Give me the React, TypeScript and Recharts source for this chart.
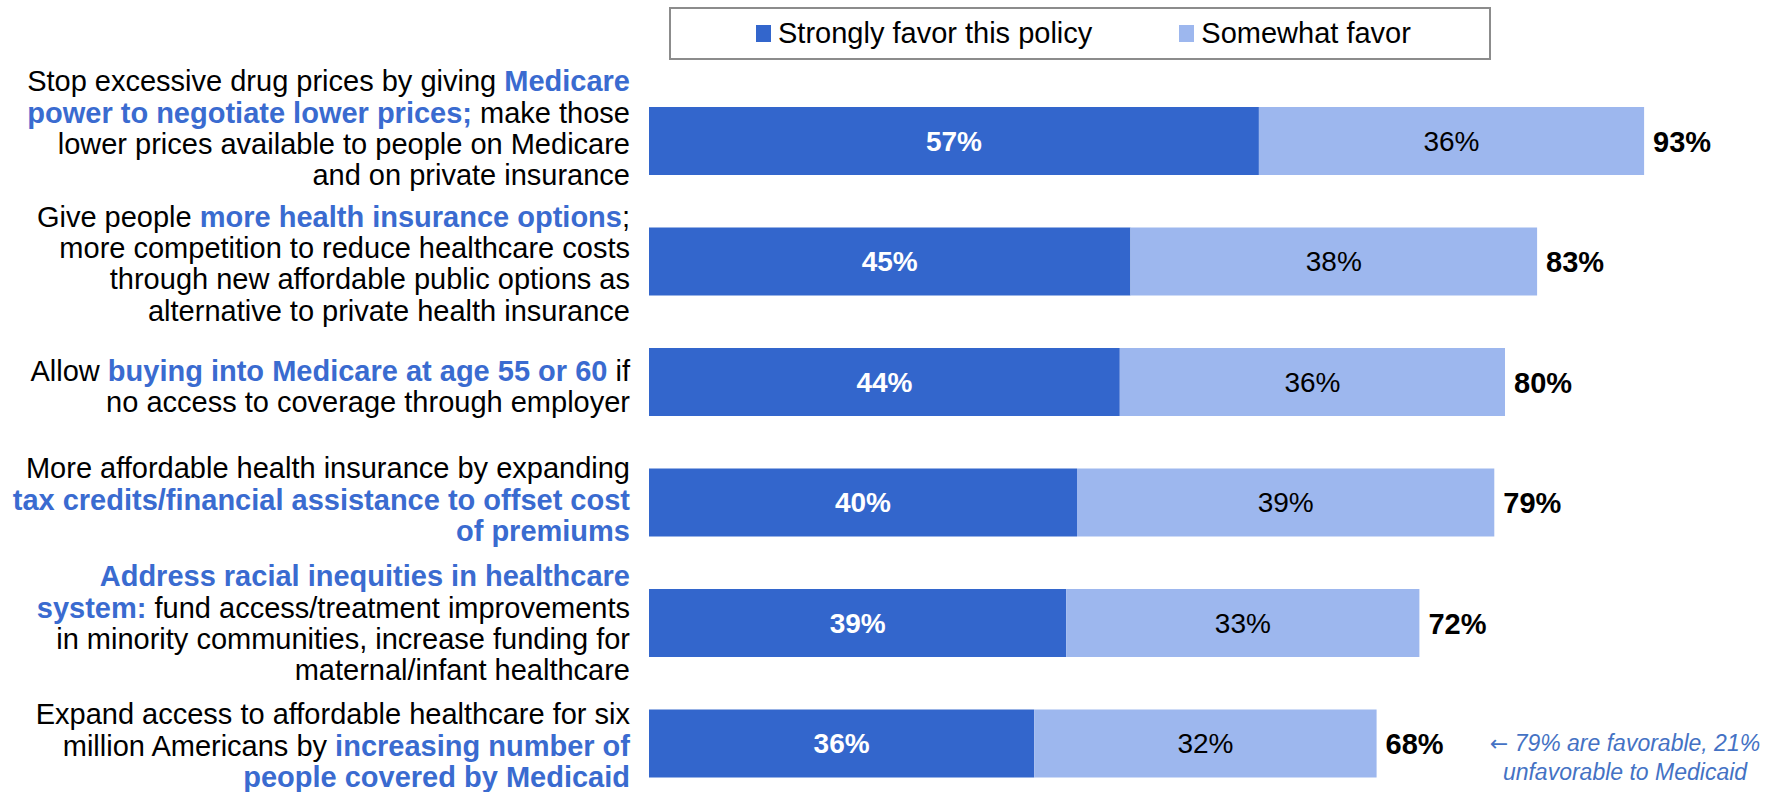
import React from 'react';
import { BarChart, Bar, XAxis, YAxis, Legend, LabelList } from 'recharts';

const categories = ['drugPrices', 'insuranceOptions', 'medicareBuyIn', 'taxCredits', 'racialEquity', 'medicaid'];
const strongly = [57, 45, 44, 40, 39, 36];
const somewhat = [36, 38, 36, 39, 33, 32];
const totals = [93, 83, 80, 79, 72, 68];

// ** marks the highlighted (bold blue) part of a line
const labelLines = [
  [
    'Stop excessive drug prices by giving **Medicare**',
    '**power to negotiate lower prices;** make those',
    'lower prices available to people on Medicare',
    'and on private insurance',
  ],
  [
    'Give people **more health insurance options**;',
    'more competition to reduce healthcare costs',
    'through new affordable public options as',
    'alternative to private health insurance',
  ],
  ['Allow **buying into Medicare at age 55 or 60** if', 'no access to coverage through employer'],
  [
    'More affordable health insurance by expanding',
    '**tax credits/financial assistance to offset cost**',
    '**of premiums**',
  ],
  [
    '**Address racial inequities in healthcare**',
    '**system:** fund access/treatment improvements',
    'in minority communities, increase funding for',
    'maternal/infant healthcare',
  ],
  [
    'Expand access to affordable healthcare for six',
    'million Americans by **increasing number of**',
    '**people covered by Medicaid**',
  ],
];

const legendNames = ['Strongly favor this policy', 'Somewhat favor'];
const noteArrow = '\u2190';
const noteLines = ['79% are favorable, 21%', 'unfavorable to Medicaid'];

const data = categories.map((key, i) => ({
  key,
  strongly: strongly[i],
  somewhat: somewhat[i],
  total: totals[i],
}));

const FONT = '"Liberation Sans", Arial, Helvetica, sans-serif';
const DARK = '#3366cc';
const LIGHT = '#9db7ee';
const HIGHLIGHT = '#3a6bd0';
const LINE = 31.3;
// small vertical shifts of the left labels, as placed in the original slide
const labelNudge = [-13, 2, 4, -3, 0, 2];

const CategoryTick = (props: any) => {
  const { x, y, payload } = props;
  const index = props.index ?? payload.index ?? 0;
  const lines = labelLines[index] || [];
  const start = y + labelNudge[index] + 10 - ((lines.length - 1) / 2) * LINE;
  return (
    <text textAnchor="end" fontSize={29} fontFamily={FONT} fill="#000" style={{ whiteSpace: 'pre' }}>
      {lines.map((line, i) => (
        <tspan key={i} x={x} y={start + i * LINE}>
          {line.split('**').map((seg, j) =>
            seg ? (
              <tspan key={j} fill={j % 2 ? HIGHLIGHT : '#000'} fontWeight={j % 2 ? 'bold' : 'normal'}>
                {seg}
              </tspan>
            ) : null
          )}
        </tspan>
      ))}
    </text>
  );
};

const TotalLabel = (props: any) => {
  const vb = props.viewBox && props.viewBox.width !== undefined ? props.viewBox : props;
  const x = Number(vb.x) + Number(vb.width) + 9;
  const y = Number(vb.y) + Number(vb.height) / 2 + 10.5;
  return (
    <text x={x} y={y} fontSize={29} fontWeight="bold" fontFamily={FONT} fill="#000">
      {`${props.value}%`}
    </text>
  );
};

const LegendBox = () => (
  <div
    style={{
      boxSizing: 'border-box',
      width: 822,
      height: 53,
      border: '2px solid #8c8c8c',
      display: 'flex',
      alignItems: 'center',
      paddingLeft: 85,
      fontSize: 29,
      fontFamily: FONT,
      color: '#000',
      background: '#fff',
      whiteSpace: 'nowrap',
    }}
  >
    {legendNames.map((name, i) => (
      <div key={name} style={{ display: 'flex', alignItems: 'center', flexShrink: 0, marginRight: 87 }}>
        <span
          style={{
            display: 'inline-block',
            flexShrink: 0,
            width: 15,
            height: 17,
            background: i === 0 ? DARK : LIGHT,
            marginRight: 7,
          }}
        />
        <span>{name}</span>
      </div>
    ))}
  </div>
);

export default function App() {
  return (
    <div
      style={{
        position: 'absolute',
        left: 0,
        top: 0,
        width: 1771,
        height: 792,
        overflow: 'hidden',
        background: '#fff',
        fontFamily: FONT,
      }}
    >
      <BarChart
        width={1771}
        height={810}
        data={data}
        layout="vertical"
        margin={{ top: 81, right: 52, bottom: 6, left: 0 }}
      >
        <XAxis type="number" domain={[0, 100]} hide />
        <YAxis
          type="category"
          dataKey="key"
          width={649}
          axisLine={false}
          tickLine={false}
          tickSize={0}
          tickMargin={19}
          interval={0}
          tick={<CategoryTick />}
        />
        <Legend
          layout="horizontal"
          align="center"
          verticalAlign="middle"
          wrapperStyle={{ top: 7, left: 669, width: 822, height: 53 }}
          content={() => <LegendBox />}
        />
        <Bar dataKey="strongly" stackId="a" fill={DARK} barSize={68} isAnimationActive={false}>
          <LabelList
            dataKey="strongly"
            position="center"
            fill="#fff"
            fontSize={28}
            fontWeight="bold"
            fontFamily={FONT}
            formatter={(v: any) => `${v}%`}
          />
        </Bar>
        <Bar dataKey="somewhat" stackId="a" fill={LIGHT} barSize={68} isAnimationActive={false}>
          <LabelList
            dataKey="somewhat"
            position="center"
            fill="#000"
            fontSize={28}
            fontFamily={FONT}
            formatter={(v: any) => `${v}%`}
          />
          <LabelList dataKey="total" content={<TotalLabel />} />
        </Bar>
      </BarChart>
      <div
        style={{
          position: 'absolute',
          left: 1480,
          top: 729,
          width: 290,
          textAlign: 'center',
          fontSize: 23,
          lineHeight: '28.3px',
          fontStyle: 'italic',
          color: '#4472c4',
          fontFamily: FONT,
          whiteSpace: 'nowrap',
        }}
      >
        <div>
          <span style={{ fontFamily: '"DejaVu Sans", sans-serif', fontStyle: 'normal', fontSize: 22 }}>{noteArrow}</span>{' '}
          {noteLines[0]}
        </div>
        <div>{noteLines[1]}</div>
      </div>
    </div>
  );
}
